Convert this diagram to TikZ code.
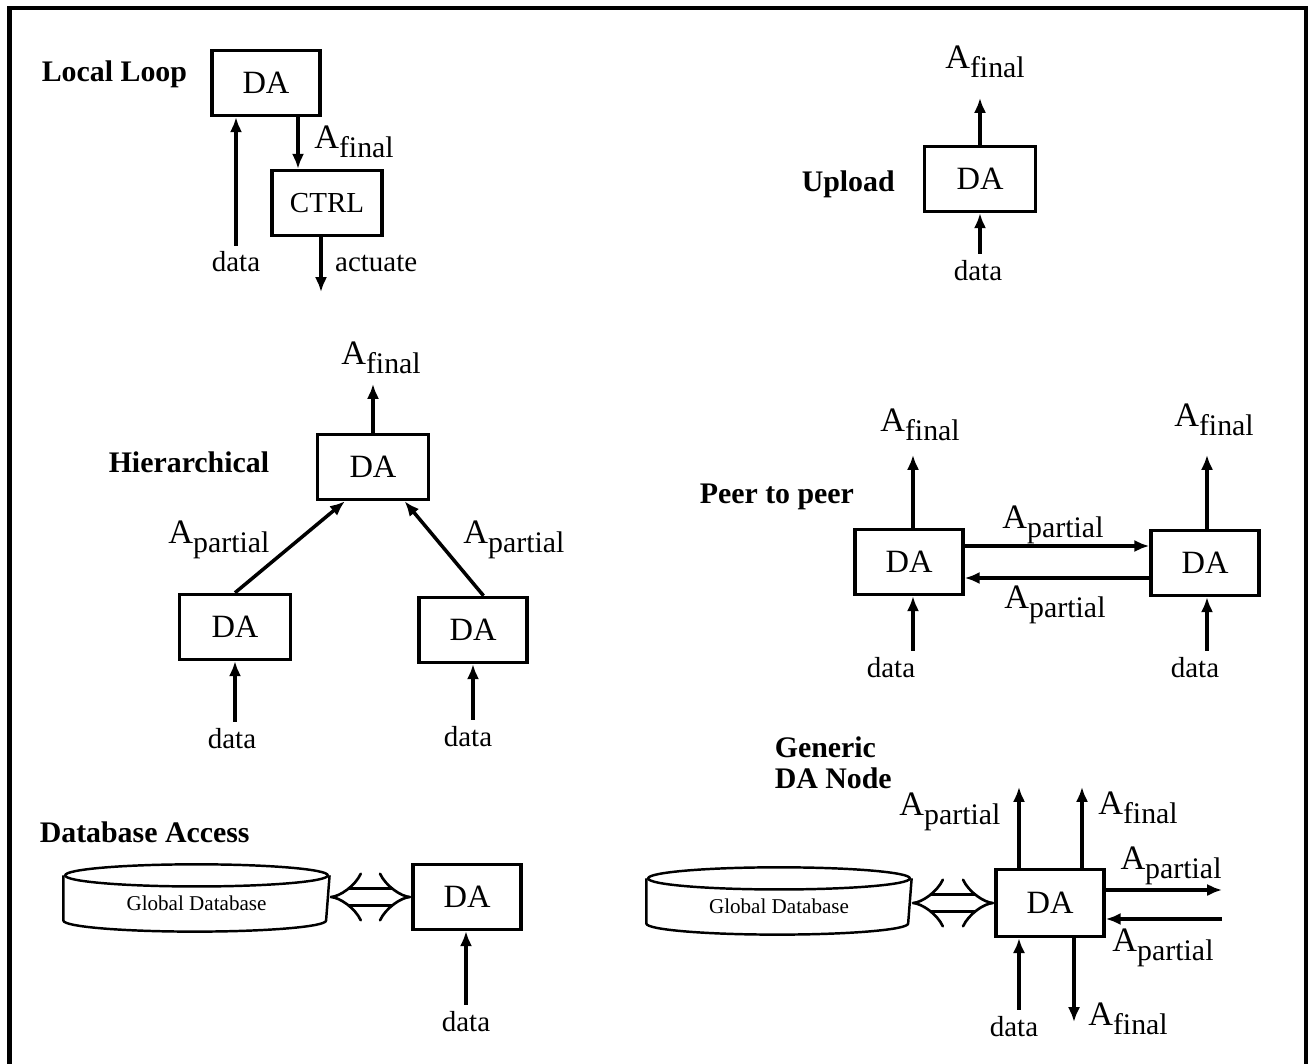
\documentclass[tikz,border=0pt]{standalone}
\usepackage{fontspec}
\setmainfont{Liberation Serif}
\usetikzlibrary{arrows.meta}
\newcommand{\Asub}[1]{{\fontsize{19.5}{19.5}\selectfont A}\raisebox{-5pt}{\fontsize{17}{17}\selectfont #1}}

\begin{document}
\begin{tikzpicture}[x=0.02cm,y=0.02cm,->,>={Latex[length=8.5pt,width=7pt]},
  line width=2pt,
  da node/.style={rectangle,draw,minimum width=61.5pt,minimum height=37pt,inner sep=0pt,font=\fontsize{18.5}{18.5}\selectfont},
  title node/.style={anchor=base west,inner sep=0pt,font=\bfseries\fontsize{17}{17}\selectfont},
  data node/.style={anchor=base,inner sep=2.5pt,font=\fontsize{16.5}{16.5}\selectfont},
  a node/.style={inner sep=0pt},
  db node/.style={minimum width=149.5pt,minimum height=30pt,inner sep=0pt,font=\fontsize{12}{12}\selectfont},
  db line/.style={-,line width=1.4pt},
  dbl arrow/.style={Implies-Implies,double,double distance=8.5pt,line width=1.5pt}]
  \useasboundingbox (0,0) rectangle (1308,-1064);
  \draw[-,line width=2.8pt] (9.5,-1064) -- (9.5,-8) -- (1306,-8) -- (1306,-1064);

  % local loop
  \node[title node] (ll_title) at (40,-82) {Local Loop};
  \node[da node] (ll_da) at (266,-83) {DA};
  \node[da node,minimum width=62.5pt,font=\fontsize{16.5}{16.5}\selectfont] (ll_ctrl) at (327,-203) {CTRL};
  \node[data node] (ll_data) at (236,-272) {data};
  \node[data node,anchor=base west] (ll_act_lbl) at (329,-272) {actuate};
  \node[a node] (ll_lbl) at (354,-142) {\Asub{final}};
  \coordinate (ll_out) at (298,0);
  \coordinate (ll_act) at (321,-292);
  \path (ll_data) edge (ll_data |- ll_da.south)
    (ll_out |- ll_da.south) edge (ll_out |- ll_ctrl.north)
    (ll_act |- ll_ctrl.south) edge (ll_act);

  % upload
  \node[title node] (up_title) at (800,-192) {Upload};
  \node[da node,minimum width=63pt] (up_da) at (980,-179) {DA};
  \node[a node] (up_lbl) at (985,-62) {\Asub{final}};
  \node[data node] (up_data) at (978,-280) {data};
  \coordinate (up_top) at (980,-98);
  \path (up_data.north -| up_da) edge (up_da)
    (up_da) edge (up_top);

  % hierarchical
  \node[title node] (hi_title) at (107,-472) {Hierarchical};
  \node[da node,minimum width=63pt] (hi_top) at (373,-467) {DA};
  \node[da node,minimum width=63pt] (hi_left) at (235,-627) {DA};
  \node[da node] (hi_right) at (473,-630) {DA};
  \node[a node] (hi_lbl) at (381,-358) {\Asub{final}};
  \node[a node] (hi_lbl1) at (219,-540) {\Asub{partial}};
  \node[a node] (hi_lbl2) at (514,-540) {\Asub{partial}};
  \node[data node] (hi_data1) at (232,-748) {data};
  \node[data node] (hi_data2) at (468,-746) {data};
  \coordinate (hi_out) at (376,-384);
  \path (hi_top) edge (hi_top |- hi_out)
    (hi_left.north) edge ([xshift=-16pt]hi_top.south)
    ([xshift=6pt]hi_right.north) edge ([xshift=18pt]hi_top.south)
    (hi_data1.north -| hi_left) edge (hi_left)
    (hi_data2.north -| hi_right) edge (hi_right);

  % peer to peer
  \node[title node] (pp_title) at (698,-503) {Peer to peer};
  \node[da node] (pp_left) at (909,-562) {DA};
  \node[da node] (pp_right) at (1205,-563) {DA};
  \node[a node] (pp_lbl1) at (920,-425) {\Asub{final}};
  \node[a node] (pp_lbl2) at (1214,-420) {\Asub{final}};
  \node[a node] (pp_lbl3) at (1053,-525) {\Asub{partial}};
  \node[a node] (pp_lbl4) at (1055,-605) {\Asub{partial}};
  \node[data node] (pp_data1) at (891,-677) {data};
  \node[data node] (pp_data2) at (1195,-677) {data};
  \coordinate (pp_out1) at (913,-455);
  \coordinate (pp_out2) at (1207,-455);
  \coordinate (pp_hi) at (0,-546);
  \coordinate (pp_lo) at (0,-578);
  \path (pp_out1 |- pp_left.north) edge (pp_out1)
    (pp_out2 |- pp_right.north) edge (pp_out2)
    (pp_left.east |- pp_hi) edge (pp_right.west |- pp_hi)
    (pp_right.west |- pp_lo) edge (pp_left.east |- pp_lo)
    (pp_out1 |- pp_data1.north) edge (pp_out1 |- pp_left.south)
    (pp_out2 |- pp_data2.north) edge (pp_out2 |- pp_right.south);

  % database access
  \node[title node] (db_title) at (38,-842) {Database Access};
  \node[db node] (db_db) at (196.5,-903.5) {Global Database};
  \draw[db line] (db_db.north west) -- ([yshift=6.3pt]db_db.south west)
    arc[start angle=180,end angle=360,x radius=74.75pt,y radius=6.3pt] -- (db_db.north east);
  \draw[db line] (db_db.north) ellipse [x radius=74.75pt,y radius=6.3pt];
  \node[da node] (db_da) at (467,-897) {DA};
  \node[data node] (db_data) at (466,-1031) {data};
  \path (db_db.east |- db_da) edge[dbl arrow] (db_da.west)
    (db_data) edge (db_data |- db_da.south);

  % generic node
  \node[title node] (gn_title1) at (773,-757) {Generic};
  \node[title node] (gn_title2) at (773,-788) {DA Node};
  \node[db node,minimum width=149pt] (gn_db) at (779,-906.5) {Global Database};
  \draw[db line] (gn_db.north west) -- ([yshift=6.3pt]gn_db.south west)
    arc[start angle=180,end angle=360,x radius=74.5pt,y radius=6.3pt] -- (gn_db.north east);
  \draw[db line] (gn_db.north) ellipse [x radius=74.5pt,y radius=6.3pt];
  \node[da node,minimum height=38pt] (gn_da) at (1050,-903) {DA};
  \node[a node] (gn_lbl1) at (950,-812) {\Asub{partial}};
  \node[a node] (gn_lbl2) at (1138,-808) {\Asub{final}};
  \node[a node] (gn_lbl3) at (1171,-866) {\Asub{partial}};
  \node[a node] (gn_lbl4) at (1163,-948) {\Asub{partial}};
  \node[a node] (gn_lbl5) at (1128,-1019) {\Asub{final}};
  \node[data node] (gn_data) at (1014,-1036) {data};
  \coordinate (gn_up1) at (1019,-787);
  \coordinate (gn_up2) at (1082,-787);
  \coordinate (gn_down) at (1074,-1022);
  \coordinate (gn_r1) at (1222,-890);
  \coordinate (gn_r2) at (1222,-919);
  \path (gn_db.east |- gn_da) edge[dbl arrow] (gn_da.west)
    (gn_up1 |- gn_da.north) edge (gn_up1)
    (gn_up2 |- gn_da.north) edge (gn_up2)
    (gn_down |- gn_da.south) edge (gn_down)
    (gn_r1 -| gn_da.east) edge (gn_r1)
    (gn_r2) edge (gn_r2 -| gn_da.east)
    (gn_up1 |- gn_data.north) edge (gn_up1 |- gn_da.south);
\end{tikzpicture}
\end{document}
